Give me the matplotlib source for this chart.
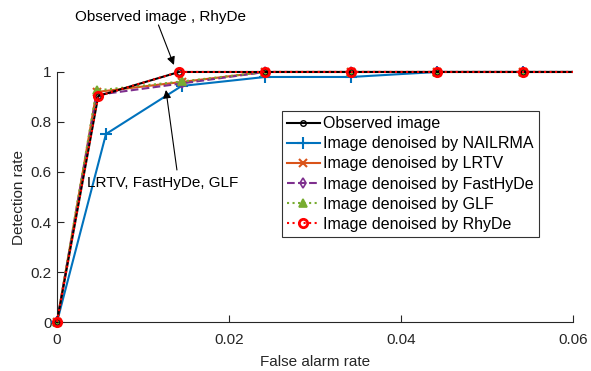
import numpy as np
import matplotlib.pyplot as plt
from matplotlib.patches import Rectangle

plt.rcParams['font.family'] = ['Liberation Sans', 'DejaVu Sans']

# ROC points (false alarm rate, detection rate); last point sits past the axis limit
fa_obs = [0, 0.0048, 0.0142, 0.0242, 0.0342, 0.0442, 0.0542, 1]
pd_obs = [0, 0.904, 1, 1, 1, 1, 1, 1]
fa_nail = [0, 0.0057, 0.0145, 0.0242, 0.0342, 0.0442, 0.0542, 1]
pd_nail = [0, 0.752, 0.944, 0.98, 0.98, 1, 1, 1]
fa_lrtv = [0, 0.0046, 0.0145, 0.0242, 0.0342, 0.0442, 0.0542, 1]
pd_lrtv = [0, 0.92, 0.96, 1, 1, 1, 1, 1]
fa_fast = [0, 0.0046, 0.0145, 0.0242, 0.0342, 0.0442, 0.0542, 1]
pd_fast = [0, 0.908, 0.954, 1, 1, 1, 1, 1]
fa_glf = [0, 0.0046, 0.0145, 0.0242, 0.0342, 0.0442, 0.0542, 1]
pd_glf = [0, 0.926, 0.962, 1, 1, 1, 1, 1]
fa_rhy = [0, 0.0048, 0.0142, 0.0242, 0.0342, 0.0442, 0.0542, 1]
pd_rhy = [0, 0.904, 1, 1, 1, 1, 1, 1]

fig = plt.figure(figsize=(5.91, 3.71), dpi=100)
ax = fig.add_axes([0.0964, 0.132, 0.873, 0.674])

lines = []
lines += ax.plot(fa_obs, pd_obs, 'k-o', lw=1.5, ms=4, mfc='none', label='Observed image', zorder=3)
lines += ax.plot(fa_nail, pd_nail, '-+', color='#0072BD', lw=1.5, ms=8, mew=1.5, label='Image denoised by NAILRMA', zorder=2)
lines += ax.plot(fa_lrtv, pd_lrtv, '-x', color='#D95319', lw=1.5, ms=6, mew=1.5, label='Image denoised by LRTV', zorder=2)
lines += ax.plot(fa_fast, pd_fast, '--d', color='#7E2F8E', lw=1.5, ms=5, mfc='none', mew=1.2, label='Image denoised by FastHyDe', zorder=2)
lines += ax.plot(fa_glf, pd_glf, ':^', color='#77AC30', lw=1.5, ms=6, mew=1.2, label='Image denoised by GLF', zorder=2)
lines += ax.plot(fa_rhy, pd_rhy, ':o', color='#FF0000', lw=1.5, ms=6, mfc='none', mew=2, label='Image denoised by RhyDe', zorder=4)

# clip at the right edge only, so markers on the axes limits stay whole
clip = Rectangle((-0.05, -0.05), 1.05, 1.1, transform=ax.transAxes, fill=False, visible=False)
ax.add_patch(clip)
for ln in lines:
    ln.set_clip_path(clip)

ax.set_xlim(0, 0.06)
ax.set_ylim(0, 1)
ax.set_xticks([0, 0.02, 0.04, 0.06])
ax.set_xticklabels(['0', '0.02', '0.04', '0.06'])
ax.set_yticks([0, 0.2, 0.4, 0.6, 0.8, 1])
ax.set_yticklabels(['0', '0.2', '0.4', '0.6', '0.8', '1'])
ax.tick_params(direction='in', labelsize=11, length=5, color='#262626', labelcolor='#262626')
ax.tick_params(axis='x', pad=8)
ax.tick_params(axis='y', pad=4)
for s in ['top', 'right']:
    ax.spines[s].set_visible(False)
for s in ['left', 'bottom']:
    ax.spines[s].set_color('#262626')
    ax.spines[s].set_linewidth(0.8)

ax.set_xlabel('False alarm rate', fontsize=11, color='#262626', labelpad=6)
ax.set_ylabel('Detection rate', fontsize=11, color='#262626', labelpad=3)

leg = ax.legend(loc='upper left', bbox_to_anchor=(0.436, 0.842), fontsize=11.5,
                frameon=True, fancybox=False, edgecolor='black', handlelength=2.1,
                handletextpad=0.2, borderpad=0.3, labelspacing=0.32, borderaxespad=0)
leg.get_frame().set_linewidth(0.8)

# callouts pointing at the overlapping curves
ax.text(0.0120, 1.22, 'Observed image , RhyDe', ha='center', va='center', fontsize=11)
ax.annotate('', xy=(0.0136, 1.028), xytext=(0.0118, 1.188), annotation_clip=False,
            arrowprops=dict(arrowstyle='-|>', color='black', lw=0.8, shrinkA=0, shrinkB=0,
                            mutation_scale=12))
ax.text(0.0123, 0.556, 'LRTV, FastHyDe, GLF', ha='center', va='center', fontsize=11)
ax.annotate('', xy=(0.01267, 0.928), xytext=(0.01395, 0.608),
            arrowprops=dict(arrowstyle='-|>', color='black', lw=0.8, shrinkA=0, shrinkB=0,
                            mutation_scale=12))

fig.savefig('out.png', dpi=100)
